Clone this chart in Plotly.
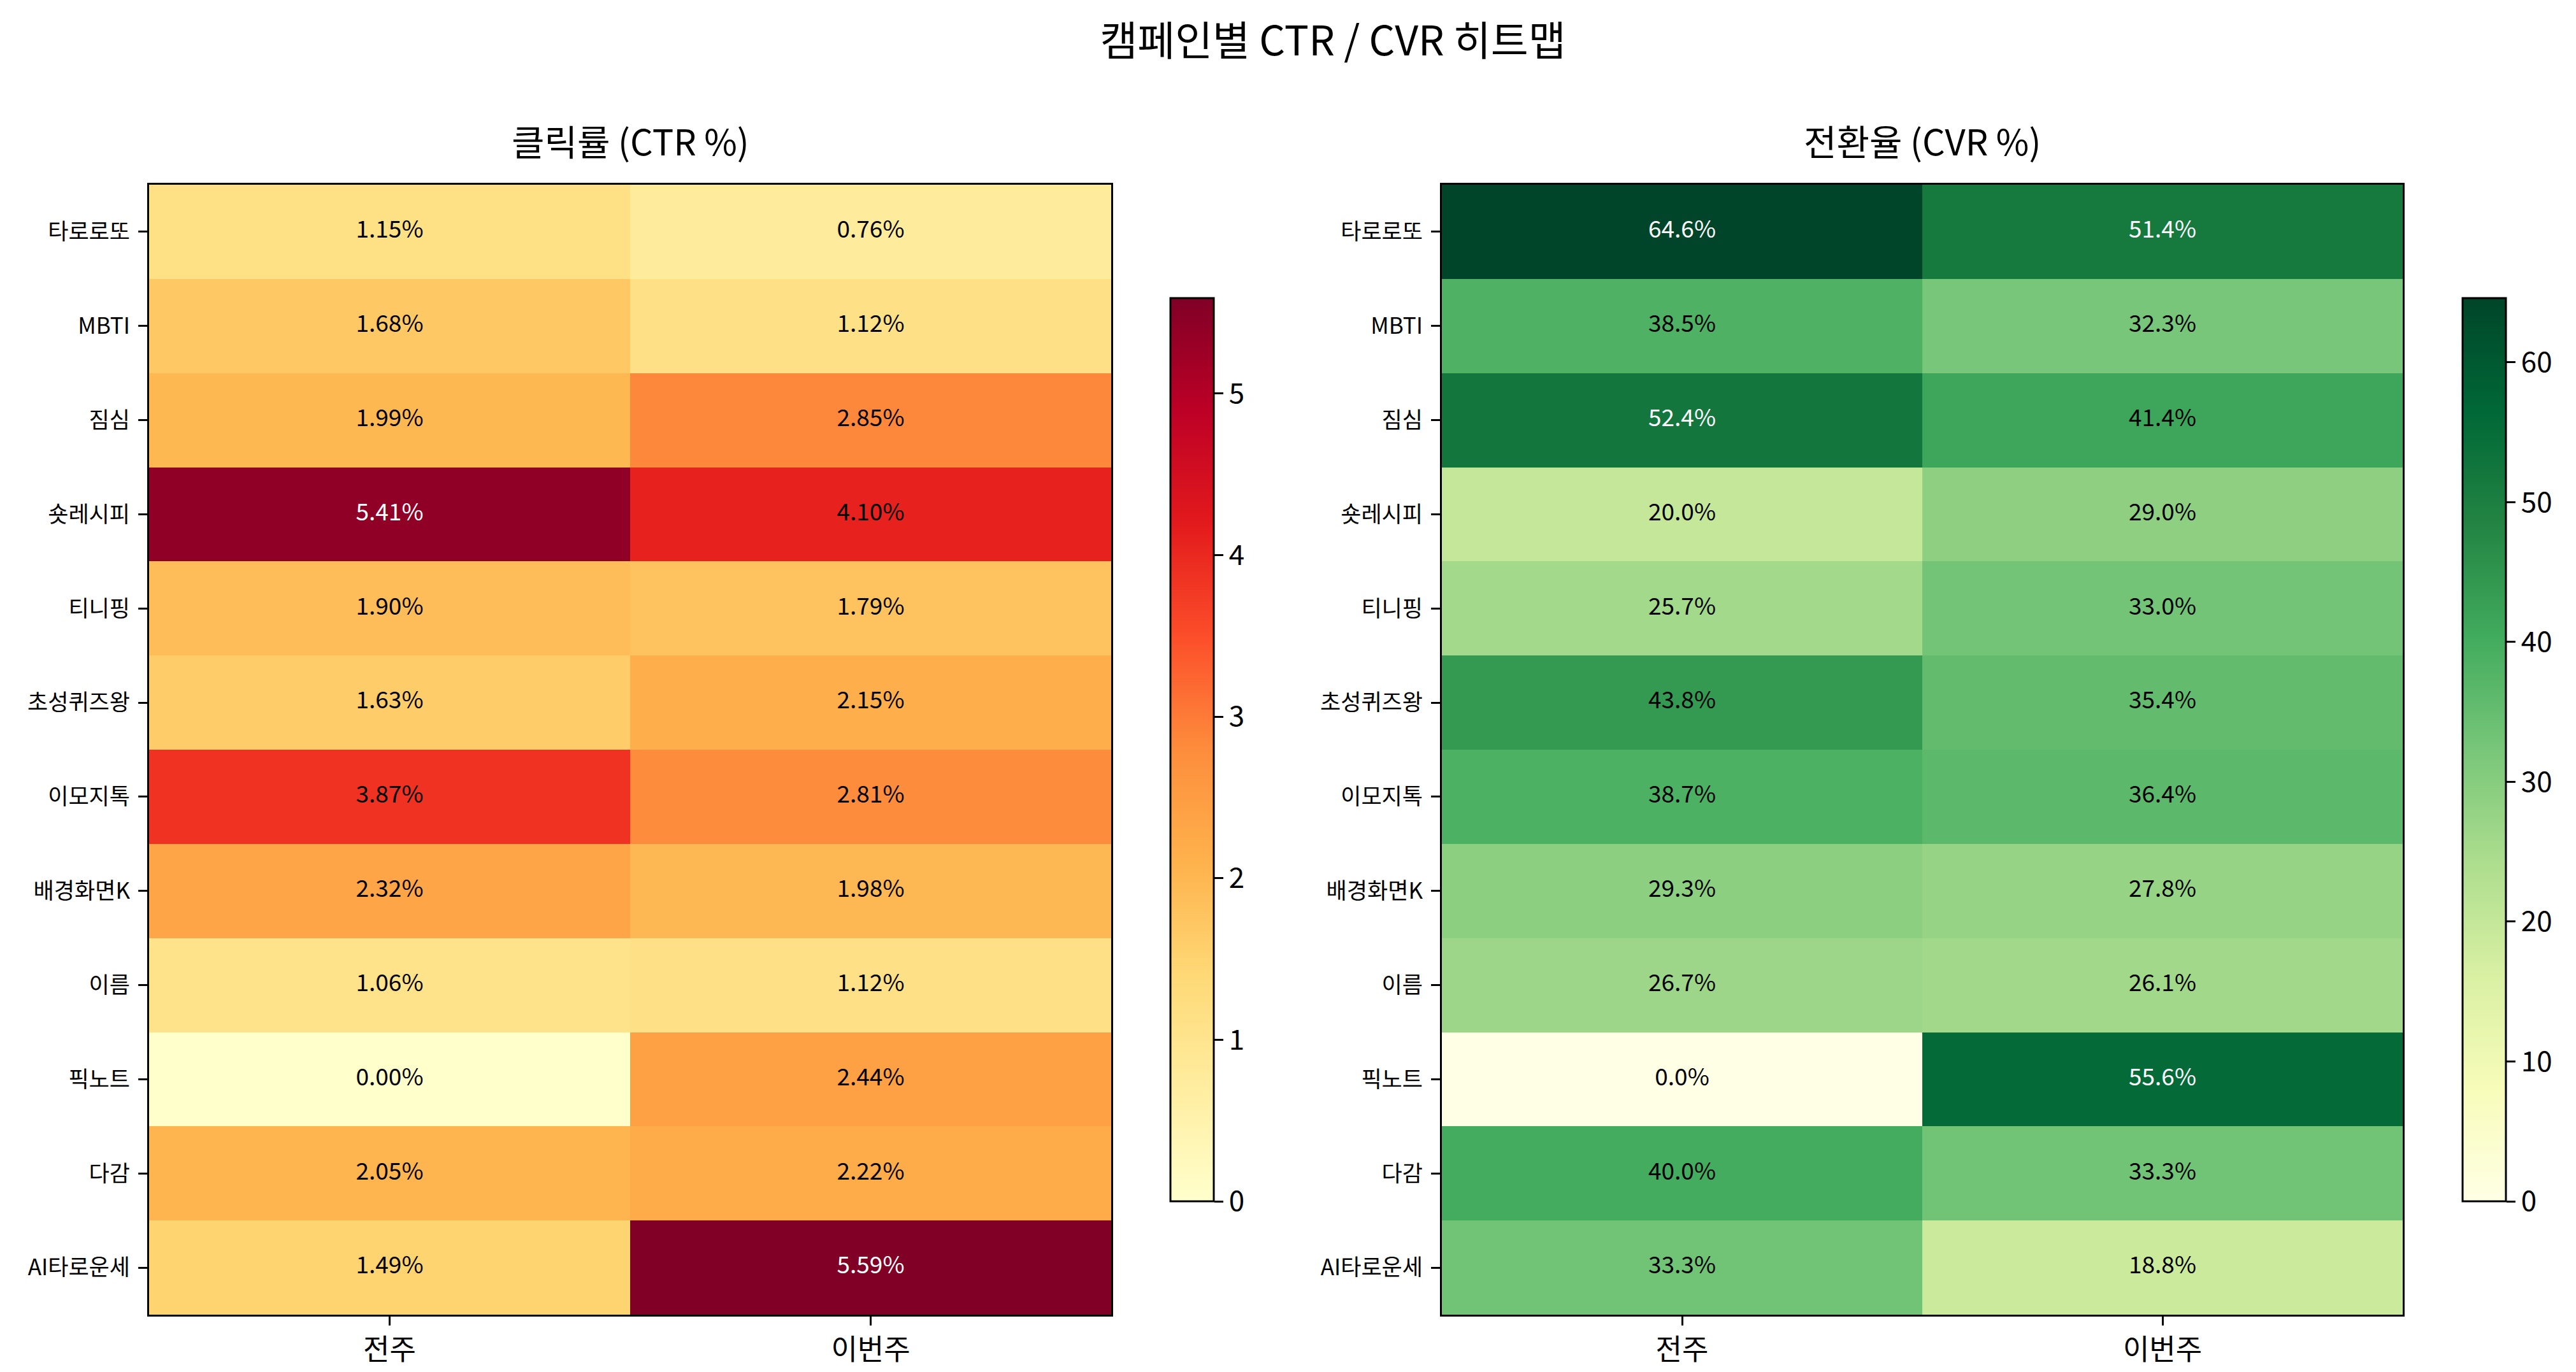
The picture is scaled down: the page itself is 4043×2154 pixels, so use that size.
import plotly.graph_objects as go

# campaign rows, top to bottom
campaigns = ["타로로또", "MBTI", "짐심", "숏레시피", "티니핑", "초성퀴즈왕",
             "이모지톡", "배경화면K", "이름", "픽노트", "다감", "AI타로운세"]
weeks = ["전주", "이번주"]

ctr_prev = [1.15, 1.68, 1.99, 5.41, 1.90, 1.63, 3.87, 2.32, 1.06, 0.00, 2.05, 1.49]
ctr_this = [0.76, 1.12, 2.85, 4.10, 1.79, 2.15, 2.81, 1.98, 1.12, 2.44, 2.22, 5.59]
cvr_prev = [64.6, 38.5, 52.4, 20.0, 25.7, 43.8, 38.7, 29.3, 26.7, 0.0, 40.0, 33.3]
cvr_this = [51.4, 32.3, 41.4, 29.0, 33.0, 35.4, 36.4, 27.8, 26.1, 55.6, 33.3, 18.8]

# colorbrewer 9-class scales (same as matplotlib YlOrRd / YlGn)
ylorrd = ["#ffffcc", "#ffeda0", "#fed976", "#feb24c", "#fd8d3c",
          "#fc4e2a", "#e31a1c", "#bd0026", "#800026"]
ylgn = ["#ffffe5", "#f7fcb9", "#d9f0a3", "#addd8e", "#78c679",
        "#41ab5d", "#238443", "#006837", "#004529"]


def to_scale(colors):
    n = len(colors) - 1
    return [[i / n, c] for i, c in enumerate(colors)]


W, H = 4043, 2154
FONT = "Noto Sans CJK KR, DejaVu Sans, sans-serif"

px_left = [(226, 1736), (2255, 3763)]
px_top, px_bottom = 282, 2056
px_cbar = [1829, 3857]
cb_top, cb_bottom = 460, 1878

fig = go.Figure()

panels = [
    (ctr_prev, ctr_this, ylorrd, "{:.2f}%", 1.0),
    (cvr_prev, cvr_this, ylgn, "{:.1f}%", 10.0),
]

for i, (prev, this, cols, fmt, dt) in enumerate(panels):
    suffix = "" if i == 0 else str(i + 1)
    z = [[a, b] for a, b in zip(prev, this)]
    zmax = max(max(prev), max(this))
    fig.add_trace(go.Heatmap(
        x=weeks, y=campaigns, z=z,
        zmin=0, zmax=zmax,
        colorscale=to_scale(cols),
        xaxis="x" + suffix, yaxis="y" + suffix,
        hoverinfo="skip",
        colorbar=dict(
            x=px_cbar[i] / W, xanchor="left", xpad=0, ypad=0,
            y=1 - (cb_top + cb_bottom) / 2 / H, yanchor="middle",
            len=(cb_bottom - cb_top) / H, lenmode="fraction",
            thickness=68, thicknessmode="pixels",
            outlinewidth=3, outlinecolor="black",
            ticks="outside", ticklen=14, tickwidth=3, tickcolor="black",
            tick0=0, dtick=dt,
            tickfont=dict(family=FONT, size=44, color="black"),
        ),
    ))
    # cell labels, white on dark cells
    tx, ty, tt, tc = [], [], [], []
    for c, row in zip(campaigns, z):
        for w, v in zip(weeks, row):
            tx.append(w)
            ty.append(c)
            tt.append(fmt.format(v))
            tc.append("white" if v > zmax * 0.75 else "black")
    fig.add_trace(go.Scatter(
        x=tx, y=ty, text=tt, mode="text",
        textfont=dict(family=FONT, size=37, color=tc),
        xaxis="x" + suffix, yaxis="y" + suffix,
        hoverinfo="skip", showlegend=False,
    ))

axis_common = dict(
    showline=True, mirror=True, linecolor="black", linewidth=3,
    ticks="outside", ticklen=14, tickwidth=3, tickcolor="black",
    showgrid=False, zeroline=False, fixedrange=True,
)
ydom = [1 - px_bottom / H, 1 - px_top / H]

layout = dict(
    width=W, height=H,
    margin=dict(l=0, r=0, t=0, b=0),
    paper_bgcolor="white", plot_bgcolor="white",
    showlegend=False,
    font=dict(family=FONT, color="black"),
    title=dict(text="캠페인별 CTR / CVR 히트맵", x=2084 / W, xanchor="center",
               y=1 - 57 / H, yanchor="middle",
               font=dict(family=FONT, size=64, color="black")),
)
for i, (l, r) in enumerate(px_left):
    suffix = "" if i == 0 else str(i + 1)
    layout["xaxis" + suffix] = dict(
        axis_common, domain=[l / W, r / W], anchor="y" + suffix,
        range=[-0.5, len(weeks) - 0.5], tickfont=dict(family=FONT, size=45),
    )
    layout["yaxis" + suffix] = dict(
        axis_common, domain=ydom, anchor="x" + suffix,
        range=[len(campaigns) - 0.5, -0.5], tickfont=dict(family=FONT, size=35),
        ticklabelstandoff=6,
    )

fig.update_layout(**layout)

titles = ["클릭률 (CTR %)", "전환율 (CVR %)"]
for (l, r), t in zip(px_left, titles):
    fig.add_annotation(
        text=t, xref="paper", yref="paper",
        x=(l + r) / 2 / W, y=1 - 254 / H, xanchor="center", yanchor="bottom",
        showarrow=False, font=dict(family=FONT, size=56, color="black"),
    )

fig.write_html("out.html")
